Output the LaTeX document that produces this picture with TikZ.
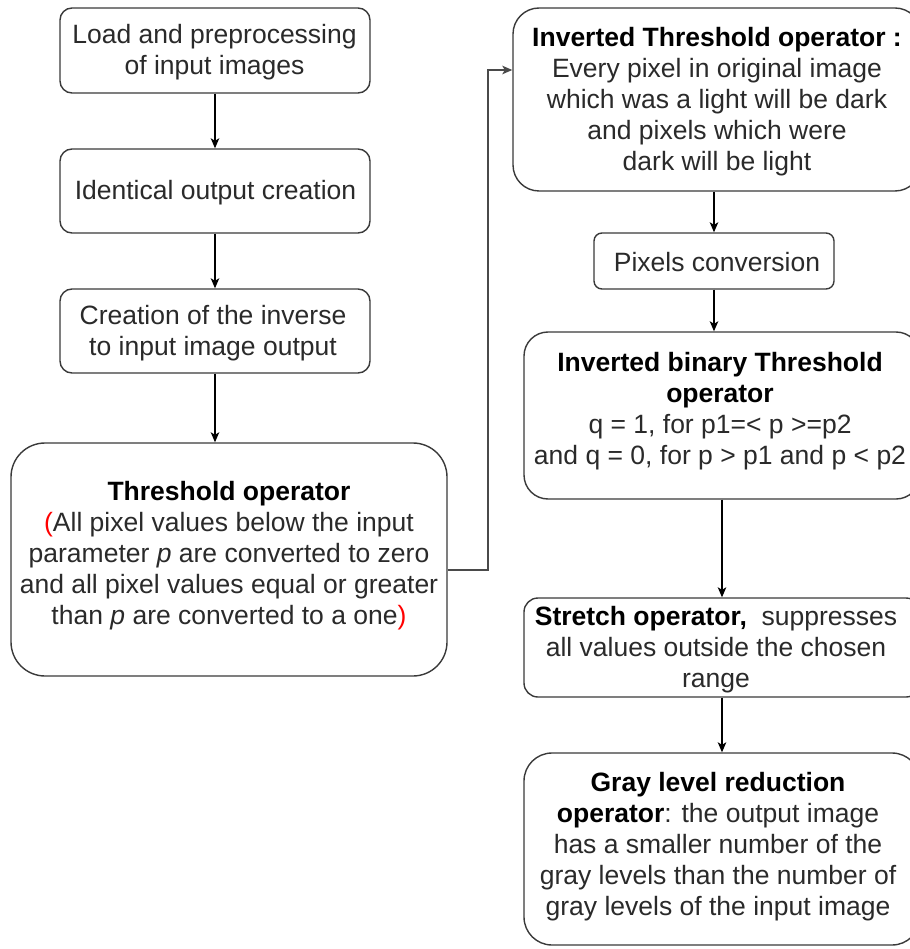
\documentclass[tikz,border=0pt]{standalone}
\usepackage{fontspec}
\setmainfont{Liberation Sans}
\usetikzlibrary{arrows.meta}
\definecolor{boxline}{HTML}{3A3A3A}
\definecolor{txtc}{HTML}{2A2A2A}
\definecolor{connc}{HTML}{4A4A4A}
\begin{document}
\begin{tikzpicture}[x=1pt,y=-1pt,
  boxshape/.style={draw=boxline, line width=1.4pt, fill=white, inner sep=0pt},
  txt/.style={align=center, text=txtc, inner sep=0pt, font=\fontsize{26.5}{31}\selectfont},
  arr/.style={draw=black, line width=1.3pt, -{Stealth[length=10pt,width=8.5pt,inset=2.5pt]}},
  conn/.style={draw=connc, line width=1.6pt, -{Stealth[length=10pt,width=8.5pt,inset=2.5pt]}}]
\useasboundingbox (0,0) rectangle (909,949);
% left column boxes
\node[boxshape, rounded corners=12pt, minimum width=310pt, minimum height=85pt] (b1) at (215,50.5) {};
\node[boxshape, rounded corners=12pt, minimum width=310pt, minimum height=84pt] (b2) at (215,191) {};
\node[boxshape, rounded corners=12pt, minimum width=310pt, minimum height=84pt] (b3) at (215,331) {};
\node[boxshape, rounded corners=34pt, minimum width=436pt, minimum height=233pt] (b4) at (229,559.5) {};
% right column boxes
\node[boxshape, rounded corners=26pt, minimum width=408pt, minimum height=183pt] (b5) at (717,99.5) {};
\node[boxshape, rounded corners=8pt, minimum width=240pt, minimum height=56pt] (b6) at (714,261) {};
\node[boxshape, rounded corners=24pt, minimum width=396pt, minimum height=167pt] (b7) at (722,415.5) {};
\node[boxshape, rounded corners=14pt, minimum width=396pt, minimum height=99pt] (b8) at (722,647.5) {};
\node[boxshape, rounded corners=28pt, minimum width=396pt, minimum height=192pt] (b9) at (722,849) {};
% texts
\node[txt] (t1) at (214.5,52.5) {Load and preprocessing\\of input images};
\node[txt] (t2) at (215.5,193) {Identical output creation};
\node[txt] (t3) at (213,333) {Creation of the inverse\\to input image output};
\node[txt] (t4) at (229,556) {\textbf{\color{black}Threshold operator}\\{\color{red}(}All pixel values below the input\\parameter \textit{p} are converted to zero\\and all pixel values equal or greater\\than \textit{p} are converted to a one{\color{red})}};
\node[txt] (t5) at (717,101.5) {\textbf{\color{black}Inverted Threshold operator :}\\Every pixel in original image\\which was a light will be dark\\and pixels which were\\dark will be light};
\node[txt] (t6) at (717,262.5) {Pixels conversion};
\node[txt] (t7) at (720,411) {\textbf{\color{black}Inverted binary Threshold}\\\textbf{\color{black}operator}\\q = 1, for p1=< p >=p2\\and q = 0, for p > p1 and p < p2};
\node[txt] (t8) at (716,650) {\textbf{\color{black}Stretch operator,}\ \ suppresses\\all values outside the chosen\\range};
\node[txt] (t9) at (718,846.5) {\textbf{\color{black}Gray level reduction}\\\textbf{\color{black}operator}: the output image\\has a smaller number of the\\gray levels than the number of\\gray levels of the input image};
% connectors
\draw[arr] (b1.south) -- (b2.north);
\draw[arr] (b2.south) -- (b3.north);
\draw[arr] (b3.south) -- (b3.south |- b4.north);
\draw[conn] ([yshift=-10.5pt]b4.east) -- ++(40,0) |- ([yshift=29.5pt]b5.west);
\draw[arr] (b6.north |- b5.south) -- (b6.north);
\draw[arr] (b6.south) -- (b6.south |- b7.north);
\draw[arr] (b7.south) -- (b8.north);
\draw[arr] (b8.south) -- (b9.north);
\end{tikzpicture}
\end{document}
